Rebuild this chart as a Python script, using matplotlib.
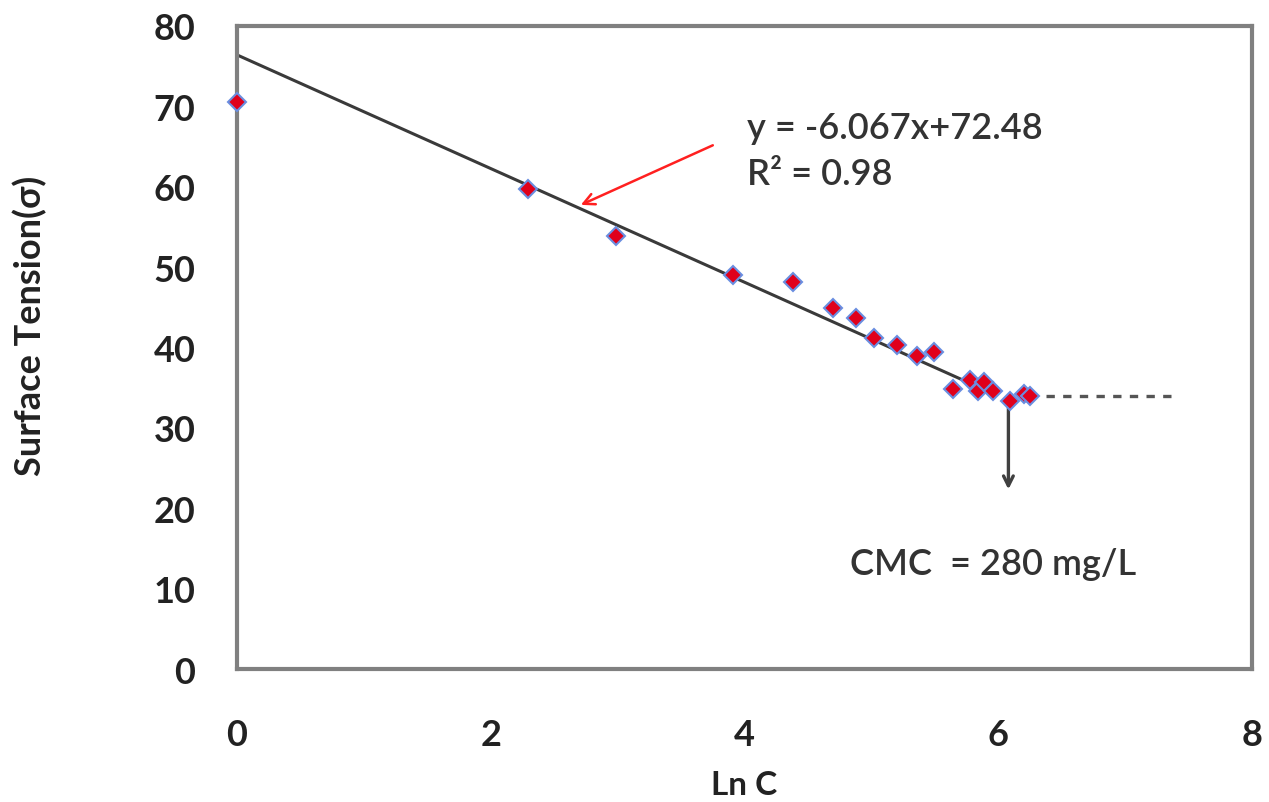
import matplotlib
matplotlib.use("Agg")
import matplotlib.pyplot as plt
import numpy as np

# Data
ln_c = [0.00, 2.29, 2.99, 3.91, 4.38, 4.70, 4.88, 5.02, 5.20, 5.36, 5.49,
        5.64, 5.78, 5.84, 5.89, 5.96, 6.09, 6.20, 6.25]
surface_tension = [70.6, 59.7, 53.9, 49.0, 48.2, 44.9, 43.7, 41.2, 40.3, 39.0, 39.5,
                   34.8, 36.0, 34.6, 35.7, 34.6, 33.4, 34.2, 34.0]

trend_intercept = 76.4
trend_slope = -7.07
trend_x_end = 5.85

plateau_y = 34.0
plateau_x = [6.38, 7.42]
cmc_x = 6.08
cmc_arrow_y = [33.0, 22.0]

x_ticks = [0, 2, 4, 6, 8]
y_ticks = [0, 10, 20, 30, 40, 50, 60, 70, 80]

eq_line1 = "y = -6.067x+72.48"
eq_line2 = "R² = 0.98"
cmc_text = "CMC  = 280 mg/L"

FONT = ["Lato", "DejaVu Sans"]
plt.rcParams['font.family'] = FONT

fig = plt.figure(figsize=(12.69, 8.03), dpi=100)
ax = fig.add_axes([0.1868, 0.1656, 0.7998, 0.8008])

ax.set_xlim(0, 8)
ax.set_ylim(0, 80)

# trend line
tx = np.array([0, trend_x_end])
ax.plot(tx, trend_intercept + trend_slope * tx, color='#3a3a3a', lw=2.2, zorder=2,
        solid_capstyle='butt')

# data points
ax.plot(ln_c, surface_tension, linestyle='none', marker='D', markersize=9,
        markerfacecolor='#e0001b', markeredgecolor='#6a8ee0', markeredgewidth=1.5,
        zorder=3, clip_on=False)

# plateau dashed line
ax.plot(plateau_x, [plateau_y, plateau_y], color='#555555', lw=2.4,
        linestyle=(0, (2.5, 2.5)), zorder=2)

# CMC arrow down
ax.annotate('', xy=(cmc_x, cmc_arrow_y[1]), xytext=(cmc_x, cmc_arrow_y[0]),
            arrowprops=dict(arrowstyle='->,head_length=0.7,head_width=0.35',
                            color='#404040', lw=2.4), zorder=2)

# red arrow pointing to the line
ax.annotate('', xy=(2.69, 57.6), xytext=(3.77, 65.3),
            arrowprops=dict(arrowstyle='->,head_length=0.8,head_width=0.4',
                            color='#ff2020', lw=1.8))

ax.text(4.02, 67.4, eq_line1, fontsize=26, fontweight='semibold', color='#333333',
        ha='left', va='center')
ax.text(4.02, 61.6, eq_line2, fontsize=26, fontweight='semibold', color='#333333',
        ha='left', va='center')
ax.text(4.83, 13.1, cmc_text, fontsize=26, fontweight='semibold', color='#333333',
        ha='left', va='center')

ax.set_xticks(x_ticks)
ax.set_yticks(y_ticks)
ax.set_xticklabels([str(v) for v in x_ticks], fontsize=26, fontweight='bold', color='#222222')
ax.set_yticklabels([str(v) for v in y_ticks], fontsize=26, fontweight='bold', color='#222222')
ax.tick_params(axis='x', length=0, pad=35)
ax.tick_params(axis='y', length=0, pad=30)

for s in ax.spines.values():
    s.set_color('#808080')
    s.set_linewidth(3)

fig.text(744 / 1269, 1 - 786 / 803, 'Ln C', fontsize=24, fontweight='bold',
         color='#222222', ha='center', va='center')
fig.text(30 / 1269, 1 - 326 / 803, 'Surface Tension(σ)', fontsize=26, fontweight='bold',
         color='#222222', ha='center', va='center', rotation=90)

fig.savefig('out.png', dpi=100)
